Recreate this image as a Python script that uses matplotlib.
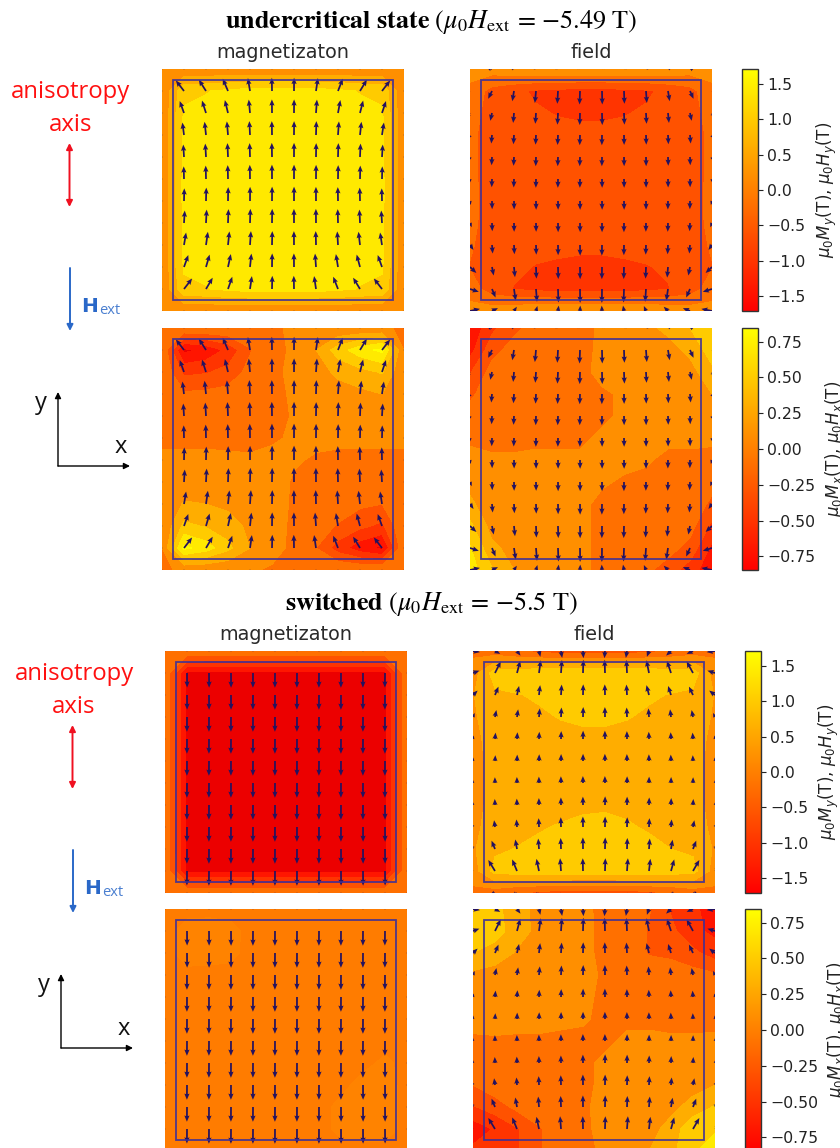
import numpy as np
import matplotlib
matplotlib.use("Agg")
import matplotlib.pyplot as plt
from matplotlib.patches import Rectangle
from matplotlib.colors import Normalize
from matplotlib.cm import ScalarMappable

# ---------- data (rows listed from top of panel to bottom, 12 columns) ----------
m1_x = [
 [-.01,-.01,-.01,-.01,-.01,-.01,.01,.01,.01,.01,.01,-.01],
 [-.01,-.85,-.75,-.55,-.22,-.02,.01,.2,.5,.72,.85,-.01],
 [-.01,-.45,-.42,-.33,-.13,-.01,.01,.1,.25,.33,.42,.01],
 [-.01,-.17,-.15,-.12,-.07,-.02,.01,.04,.1,.15,.2,.01],
 [-.01,-.08,-.08,-.06,-.04,-.02,.005,.02,.04,.06,.08,.01],
 [-.01,-.03,-.03,-.03,-.02,-.005,.005,.01,.02,.03,.03,.01],
 [.01,.03,.03,.02,.01,.01,.005,-.005,-.02,-.03,-.03,-.01],
 [.01,.08,.07,.05,.04,.02,-.005,-.01,-.03,-.06,-.08,-.01],
 [.01,.22,.2,.15,.1,.03,-.01,-.03,-.08,-.16,-.2,-.01],
 [.01,.45,.38,.3,.15,.02,-.01,-.1,-.22,-.35,-.45,-.01],
 [-.01,.85,.7,.45,.2,.03,-.02,-.2,-.5,-.72,-.85,-.01],
 [-.01,.01,.01,.01,.01,-.01,-.01,-.01,-.01,-.01,-.01,-.01]]
m1_y = [
 [.02,.02,.02,.02,.02,.02,.02,.02,.02,.02,.02,.02],
 [.02,1.1,1.18,1.28,1.35,1.38,1.38,1.35,1.28,1.18,1.1,.02],
 [.02,1.25,1.3,1.35,1.4,1.42,1.42,1.4,1.35,1.3,1.25,.02],
 [.02,1.3,1.38,1.42,1.45,1.45,1.45,1.45,1.42,1.38,1.3,.02],
 [.02,1.3,1.4,1.45,1.45,1.48,1.48,1.45,1.45,1.4,1.3,.02],
 [.02,1.32,1.4,1.45,1.48,1.5,1.5,1.48,1.45,1.4,1.32,.02],
 [.02,1.32,1.4,1.45,1.48,1.5,1.5,1.48,1.45,1.4,1.32,.02],
 [.02,1.3,1.4,1.45,1.48,1.48,1.48,1.48,1.45,1.4,1.3,.02],
 [.02,1.3,1.38,1.42,1.45,1.45,1.45,1.45,1.42,1.38,1.3,.02],
 [.02,1.25,1.3,1.35,1.4,1.42,1.42,1.4,1.35,1.3,1.25,.02],
 [.02,1.1,1.18,1.28,1.35,1.38,1.38,1.35,1.28,1.18,1.1,.02],
 [.02,.02,.02,.02,.02,.02,.02,.02,.02,.02,.02,.02]]
h1_x = [
 [-.78,-.45,-.25,-.12,-.1,-.06,.03,.08,.15,.25,.4,.6],
 [-.68,-.27,-.12,-.08,-.05,-.03,.02,.03,.06,.12,.25,.5],
 [-.42,-.12,-.06,-.05,-.04,-.02,.02,.03,.04,.07,.12,.35],
 [-.25,-.05,-.04,-.03,-.03,-.02,-.01,.01,.02,.03,.05,.2],
 [-.1,-.03,-.03,-.02,-.02,-.02,-.01,.01,.01,.02,.02,.12],
 [-.03,-.02,-.02,-.01,-.01,-.01,.01,.01,.01,.01,.01,.05],
 [.05,.01,.01,.01,.01,.01,.01,.01,.005,-.01,-.01,-.08],
 [.12,.02,.01,.01,.01,.01,.005,-.005,-.01,-.02,-.03,-.12],
 [.25,.05,.03,.02,.01,.01,-.01,-.01,-.02,-.03,-.05,-.25],
 [.45,.12,.07,.03,.02,.01,-.01,-.02,-.03,-.06,-.12,-.45],
 [.62,.25,.12,.07,.03,.01,-.01,-.03,-.06,-.12,-.27,-.65],
 [.7,.42,.2,.1,.05,.02,-.02,-.07,-.15,-.3,-.5,-.75]]
h1_y = [
 [.15,.2,.3,.35,.38,.38,.38,.38,.35,.3,.2,.15],
 [-.1,-.55,-.72,-.85,-.9,-.95,-.95,-.9,-.85,-.72,-.55,-.1],
 [-.25,-.55,-.7,-.76,-.82,-.85,-.85,-.82,-.76,-.7,-.55,-.25],
 [-.3,-.6,-.65,-.68,-.7,-.72,-.72,-.7,-.68,-.65,-.6,-.3],
 [-.3,-.58,-.62,-.65,-.65,-.65,-.65,-.65,-.65,-.62,-.58,-.3],
 [-.3,-.58,-.6,-.62,-.62,-.62,-.62,-.62,-.62,-.6,-.58,-.3],
 [-.28,-.58,-.6,-.62,-.62,-.62,-.62,-.62,-.62,-.6,-.58,-.28],
 [-.3,-.58,-.62,-.62,-.65,-.65,-.65,-.65,-.62,-.62,-.58,-.3],
 [-.35,-.6,-.65,-.68,-.72,-.75,-.75,-.72,-.68,-.65,-.6,-.35],
 [-.42,-.6,-.72,-.82,-.85,-.86,-.86,-.85,-.82,-.75,-.6,-.42],
 [-.2,-.6,-.82,-.9,-.95,-.98,-.98,-.95,-.9,-.82,-.6,-.2],
 [.15,.2,.3,.35,.38,.38,.38,.38,.35,.3,.2,.15]]
m2_x = [
 [-.01,-.01,-.01,-.01,-.01,-.01,-.01,-.01,-.01,-.01,-.01,-.01],
 [-.01,.012,.015,.008,-.01,-.01,-.01,-.01,-.01,-.012,-.015,-.01],
 [-.01,.012,.01,.006,-.01,-.01,-.01,-.01,-.01,-.012,-.012,-.01],
 [-.01,-.008,-.008,-.008,-.01,-.01,-.01,-.01,-.01,-.01,-.01,-.01],
 [-.01,-.01,-.01,-.01,-.01,-.01,-.01,-.01,-.01,-.01,-.01,-.01],
 [-.01,-.01,-.01,-.01,-.01,-.01,-.01,-.01,-.01,-.01,-.01,-.01],
 [-.01,-.01,-.01,-.01,-.01,-.01,-.01,-.01,-.01,-.01,-.01,-.01],
 [-.01,-.01,-.01,-.01,-.01,-.01,-.01,-.01,-.01,-.008,.006,-.01],
 [-.01,-.012,-.012,-.01,-.01,-.01,-.01,-.01,-.008,.01,.012,-.01],
 [-.01,-.012,-.012,-.01,-.01,-.01,-.01,-.01,.008,.012,.014,-.01],
 [-.01,-.012,-.012,-.01,-.01,-.01,-.01,-.01,.008,.012,.014,-.01],
 [-.01,-.01,-.01,-.01,-.01,-.01,-.01,-.01,-.01,-.01,-.01,-.01]]
m2_y = [
 [-.02,-.02,-.02,-.02,-.02,-.02,-.02,-.02,-.02,-.02,-.02,-.02],
 [-.02,-1.72,-1.74,-1.75,-1.75,-1.75,-1.75,-1.75,-1.75,-1.74,-1.72,-.02],
 [-.02,-1.74,-1.75,-1.75,-1.75,-1.75,-1.75,-1.75,-1.75,-1.75,-1.74,-.02],
 [-.02,-1.75,-1.75,-1.75,-1.75,-1.75,-1.75,-1.75,-1.75,-1.75,-1.75,-.02],
 [-.02,-1.75,-1.75,-1.75,-1.75,-1.75,-1.75,-1.75,-1.75,-1.75,-1.75,-.02],
 [-.02,-1.75,-1.75,-1.75,-1.75,-1.75,-1.75,-1.75,-1.75,-1.75,-1.75,-.02],
 [-.02,-1.75,-1.75,-1.75,-1.75,-1.75,-1.75,-1.75,-1.75,-1.75,-1.75,-.02],
 [-.02,-1.75,-1.75,-1.75,-1.75,-1.75,-1.75,-1.75,-1.75,-1.75,-1.75,-.02],
 [-.02,-1.75,-1.75,-1.75,-1.75,-1.75,-1.75,-1.75,-1.75,-1.75,-1.75,-.02],
 [-.02,-1.74,-1.75,-1.75,-1.75,-1.75,-1.75,-1.75,-1.75,-1.75,-1.74,-.02],
 [-.02,-1.72,-1.74,-1.75,-1.75,-1.75,-1.75,-1.75,-1.75,-1.74,-1.72,-.02],
 [-.02,-.02,-.02,-.02,-.02,-.02,-.02,-.02,-.02,-.02,-.02,-.02]]
h2_x = [
 [.6,.45,.3,.12,.1,.04,-.05,-.1,-.18,-.42,-.55,-.72],
 [.55,.5,.28,.15,.08,.03,-.03,-.05,-.22,-.35,-.55,-.65],
 [.4,.3,.18,.1,.06,.02,-.02,-.05,-.22,-.25,-.35,-.5],
 [.15,.12,.1,.07,.04,.02,-.01,-.03,-.05,-.08,-.12,-.17],
 [.06,.05,.04,.03,.02,.01,-.01,-.01,-.02,-.03,-.04,-.06],
 [.02,.03,.02,.02,.01,.005,-.01,-.01,-.01,-.02,-.02,-.03],
 [-.01,-.01,-.01,-.01,-.01,-.01,-.01,.01,.01,.01,.01,.02],
 [-.02,-.02,-.02,-.01,-.01,-.01,.01,.01,.02,.02,.03,.04],
 [-.2,-.08,-.05,-.03,-.02,-.01,.01,.02,.04,.06,.12,.2],
 [-.42,-.3,-.15,-.07,-.03,-.01,.02,.03,.07,.14,.28,.42],
 [-.72,-.58,-.42,-.22,-.08,-.02,.03,.08,.12,.28,.55,.55],
 [-.55,-.5,-.42,-.22,-.1,-.03,.02,.08,.2,.35,.55,.8]]
h2_y = [
 [-.1,-.25,-.4,-.5,-.6,-.62,-.62,-.6,-.5,-.4,-.25,-.1],
 [.2,1.0,1.05,1.1,1.12,1.14,1.14,1.12,1.1,1.05,1.0,.2],
 [.38,.72,.78,.85,.9,.92,.92,.9,.85,.78,.72,.38],
 [.35,.6,.66,.74,.82,.86,.86,.82,.74,.66,.6,.35],
 [.3,.55,.58,.62,.68,.72,.72,.68,.62,.58,.55,.3],
 [.3,.5,.55,.58,.6,.62,.62,.6,.58,.55,.5,.3],
 [.28,.5,.52,.55,.58,.6,.6,.58,.55,.52,.5,.28],
 [.28,.52,.55,.6,.65,.72,.75,.72,.65,.6,.52,.28],
 [.3,.58,.65,.76,.84,.9,.9,.84,.76,.65,.58,.3],
 [.35,.72,.82,.9,.95,1.0,1.0,.95,.9,.8,.72,.35],
 [.2,.95,1.0,1.05,1.1,1.1,1.1,1.1,1.05,1.0,.95,.2],
 [-.1,-.25,-.4,-.5,-.6,-.62,-.62,-.6,-.5,-.4,-.25,-.1]]

levels_y = [-2.0,-1.6,-1.2,-.8,-.4,0,.4,.8,1.2,1.6,2.0]
levels_x = [-1.0,-.8,-.6,-.4,-.2,0,.2,.4,.6,.8,1.0]
levels_x_fine = [-.05,0,.05]
ticks_y = [-1.5,-1.0,-0.5,0.0,0.5,1.0,1.5]
ticks_x = [-0.75,-0.5,-0.25,0.0,0.25,0.5,0.75]
limit_y, limit_x = 1.705, 0.845

W, H, DPI = 840, 1148, 100
plt.rcParams['font.family'] = 'DejaVu Sans'
fig = plt.figure(figsize=(W/DPI, H/DPI), dpi=DPI)

def rect(x0, x1, y0, y1):
    return [x0/W, 1-y1/H, (x1-x0)/W, (y1-y0)/H]

ARROW = '#24125f'
BOX = '#3c2f98'
nodes = np.arange(12)
panel_cmap = plt.get_cmap('autumn').copy()
panel_cmap.set_under('#ec0000')

def panel(x0, y0, color_rows, u_rows, v_rows, levels, vlim, scale):
    ax = fig.add_axes(rect(x0, x0+242, y0, y0+242))
    c = np.array(color_rows)[::-1]
    u = np.array(u_rows)[::-1]
    v = np.array(v_rows)[::-1]
    ax.contourf(nodes, nodes, c, levels=levels, cmap=panel_cmap, vmin=-vlim, vmax=vlim)
    ax.quiver(nodes, nodes, u, v, angles='xy', scale_units='xy', scale=scale, color=ARROW,
              width=0.0072, headwidth=3.0, headlength=3.6, headaxislength=3.2, minlength=.5, zorder=3)
    ax.add_patch(Rectangle((0.5, 0.5), 10, 10, fill=False, ec=BOX, lw=1.3, alpha=.9, zorder=4))
    ax.set_xlim(0, 11); ax.set_ylim(0, 11)
    ax.axis('off')

def cbar(x0, y0, vlim, ticks, label, label_x):
    cax = fig.add_axes(rect(x0, x0+16, y0, y0+242))
    cb = fig.colorbar(ScalarMappable(Normalize(-vlim, vlim), 'autumn'), cax=cax, ticks=ticks)
    cb.ax.tick_params(labelsize=11.3, length=3.5, width=.8, pad=3, colors='#222222')
    cb.outline.set_linewidth(1.0); cb.outline.set_edgecolor('#333333')
    cb.set_label(label, fontsize=12, color='#222222')
    cb.ax.yaxis.set_label_coords(label_x, 0.5)

LABEL_Y = r'$\mu_0 M_y$(T), $\mu_0 H_y$(T)'
LABEL_X = r'$\mu_0 M_x$(T), $\mu_0 H_x$(T)'

# row 1 & 2 : undercritical ; row 3 & 4 : switched
panel(162, 69,  m1_y, m1_x, m1_y, levels_y, limit_y, 2.3)
panel(470, 69,  h1_y, h1_x, h1_y, levels_y, limit_y, 1.55)
cbar(742, 69, limit_y, ticks_y, LABEL_Y, 4.58)
panel(162, 328, m1_x, m1_x, m1_y, levels_x, limit_x, 2.3)
panel(470, 328, h1_x, h1_x, h1_y, levels_x, limit_x, 1.55)
cbar(742, 328, limit_x, ticks_x, LABEL_X, 5.08)
panel(165, 651, m2_y, m2_x, m2_y, levels_y, limit_y, 2.6)
panel(473, 651, h2_y, h2_x, h2_y, levels_y, limit_y, 1.9)
cbar(745, 651, limit_y, ticks_y, LABEL_Y, 4.47)
panel(165, 909, m2_x, m2_x, m2_y, levels_x_fine, limit_x, 2.6)
panel(473, 909, h2_x, h2_x, h2_y, levels_x, limit_x, 1.9)
cbar(745, 909, limit_x, ticks_x, LABEL_X, 4.98)

# ---------- overlay in pixel coordinates for annotations ----------
ov = fig.add_axes([0, 0, 1, 1], zorder=10)
ov.set_xlim(0, W); ov.set_ylim(H, 0); ov.axis('off'); ov.patch.set_alpha(0)

def txt(x, y, s, **kw):
    kw.setdefault('ha', 'center'); kw.setdefault('va', 'center')
    ov.text(x, y, s, **kw)

txt(431, 22, r'$\mathbf{undercritical\ state}\ (\mu_0 H_{\mathrm{ext}}\, =\, {-}5.49\ \mathrm{T})$',
    fontsize=18.8, math_fontfamily='stix', color='black')
txt(431, 604, r'$\mathbf{switched}\ (\mu_0 H_{\mathrm{ext}}\, =\, {-}5.5\ \mathrm{T})$',
    fontsize=18.8, math_fontfamily='stix', color='black')

for x, y, s in [(283, 53, 'magnetizaton'), (591, 53, 'field'),
                (286, 634, 'magnetizaton'), (594, 634, 'field')]:
    txt(x, y, s, fontsize=13.9, color='#2a2a2a')

def arrow(x0, y0, x1, y1, style, color, lw=1.4, ms=9):
    ov.annotate('', xy=(x1, y1), xytext=(x0, y0),
                arrowprops=dict(arrowstyle=style, color=color, lw=lw, mutation_scale=ms,
                                shrinkA=0, shrinkB=0))

RED, BLUE = '#f01020', '#2a68c8'
for dx, dy in [(0, 0), (3, 582)]:
    txt(71+dx, 92+dy, 'anisotropy', fontsize=17.2, color='#ff1010', family='Open Sans')
    txt(71+dx, 125+dy, 'axis', fontsize=17.2, color='#ff1010', family='Open Sans')
    arrow(69.5+dx, 143+dy, 69.5+dx, 207+dy, '<|-|>', RED)
    arrow(70+dx, 268+dy, 70+dx, 331+dy, '-|>', BLUE)
    txt(81+dx, 306+dy, r'$\mathbf{H}$', fontsize=14.5, color=BLUE, ha='left',
        math_fontfamily='dejavusans')
    txt(99+dx, 311+dy, 'ext', fontsize=10.5, color='#4a7fd0', ha='left', family='Open Sans')
    arrow(58+dx, 466+dy, 58+dx, 392+dy, '-|>', 'black', lw=1.0)
    arrow(58+dx, 466+dy, 130+dx, 466+dy, '-|>', 'black', lw=1.0)
    txt(41+dx, 403+dy, 'y', fontsize=17, color='#111111', family='Open Sans')
    txt(121+dx, 447+dy, 'x', fontsize=17, color='#111111', family='Open Sans')

fig.savefig('out.png', dpi=DPI)
